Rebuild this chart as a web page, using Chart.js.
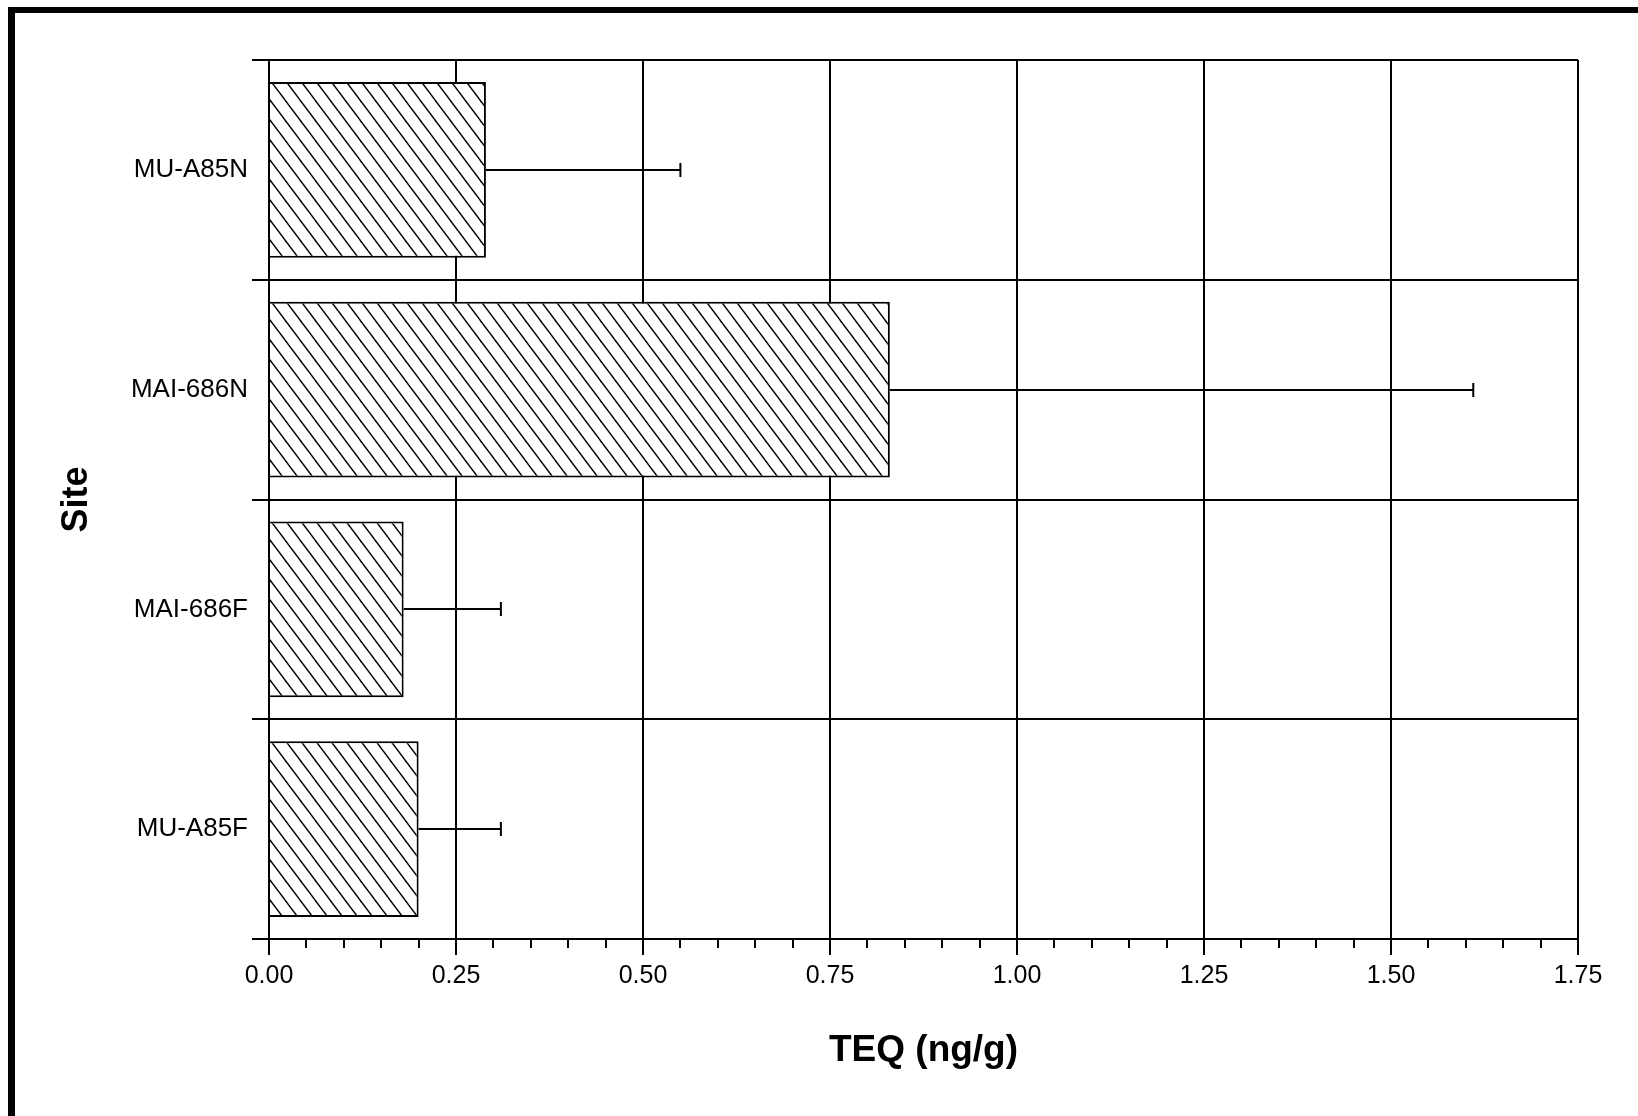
<!DOCTYPE html>
<html>
<head>
<meta charset="utf-8">
<script src="https://cdn.jsdelivr.net/npm/chart.js@4/dist/chart.umd.min.js"></script>
<style>
  html, body { margin: 0; padding: 0; background: #fff; }
  #wrap { position: relative; width: 1638px; height: 1116px; }
  #frame {
    position: absolute; left: 8px; top: 7px; right: 0; bottom: 0;
    border-left: 7px solid #000; border-top: 6px solid #000;
    pointer-events: none;
  }
</style>
</head>
<body>
<div id="wrap">
  <canvas id="chartTeq" width="1638" height="1116"></canvas>
  <div id="frame"></div>
</div>
<script>
( () => {

  // sites, top to bottom
  let sites = ['MU-A85N', 'MAI-686N', 'MAI-686F', 'MU-A85F'];
  // mean TEQ (ng/g)
  let teq = [0.29, 0.83, 0.18, 0.20];
  // error bar length (upper side only)
  let teqErr = [0.26, 0.78, 0.13, 0.11];
  let xTicks = [0.00, 0.25, 0.50, 0.75, 1.00, 1.25, 1.50, 1.75];

  Chart.defaults.font.family = '"Liberation Sans", Arial, Helvetica, sans-serif';
  Chart.defaults.color = '#000';

  // diagonal hatch, lines running down to the right
  function makeHatch() {
    let w = 15, h = 20;
    let c = document.createElement('canvas');
    c.width = w; c.height = h;
    let g = c.getContext('2d');
    g.fillStyle = '#fff';
    g.fillRect(0, 0, w, h);
    g.strokeStyle = '#000';
    g.lineWidth = 1.4;
    for (let k = -1; k <= 1; k++) {
      g.beginPath();
      g.moveTo(k * w - w, -h);
      g.lineTo(k * w + 2 * w, 2 * h);
      g.stroke();
    }
    return g.createPattern(c, 'repeat');
  }

  const errorBars = {
    id: 'errorBars',
    afterDatasetsDraw(chart) {
      const ctx = chart.ctx;
      const xs = chart.scales.x;
      const meta = chart.getDatasetMeta(0);
      ctx.save();
      ctx.strokeStyle = '#000';
      ctx.lineWidth = 2;
      meta.data.forEach((bar, i) => {
        let x0 = xs.getPixelForValue(teq[i]);
        let x1 = xs.getPixelForValue(teq[i] + teqErr[i]);
        let y = Math.round(bar.y);
        ctx.beginPath();
        ctx.moveTo(x0, y);
        ctx.lineTo(x1, y);
        ctx.moveTo(x1, y - 7);
        ctx.lineTo(x1, y + 7);
        ctx.stroke();
      });
      ctx.restore();
    }
  };

  const minorTicks = {
    id: 'minorTicks',
    afterDraw(chart) {
      const ctx = chart.ctx;
      const xs = chart.scales.x;
      const y0 = chart.chartArea.bottom;
      ctx.save();
      ctx.strokeStyle = '#000';
      ctx.lineWidth = 2;
      for (let i = 1; i < 35; i++) {
        if (i % 5 === 0) continue;
        let x = Math.round(xs.getPixelForValue(i * 0.05));
        ctx.beginPath();
        ctx.moveTo(x, y0);
        ctx.lineTo(x, y0 + 9);
        ctx.stroke();
      }
      ctx.restore();
    }
  };

  const ctx = document.getElementById('chartTeq').getContext('2d');

  new Chart(ctx, {
    type: 'bar',
    data: {
      labels: sites,
      datasets: [{
        label: 'TEQ',
        data: teq,
        backgroundColor: makeHatch(),
        borderColor: '#000',
        borderWidth: 2,
        barPercentage: 0.8,
        categoryPercentage: 1.0
      }]
    },
    options: {
      indexAxis: 'y',
      responsive: false,
      animation: false,
      layout: {
        padding: { top: 60, right: 60, left: 0, bottom: 0 }
      },
      plugins: {
        legend: { display: false },
        tooltip: { enabled: false }
      },
      scales: {
        x: {
          min: 0,
          max: 1.75,
          afterBuildTicks: (scale) => {
            scale.ticks = xTicks.map(v => ({ value: v }));
          },
          afterFit: (scale) => { scale.height = 177; },
          ticks: {
            padding: 6,
            font: { size: 25 },
            callback: (v) => Number(v).toFixed(2)
          },
          grid: {
            color: '#000',
            lineWidth: 2,
            tickLength: 16
          },
          border: { color: '#000', width: 2 },
          title: {
            display: true,
            text: 'TEQ (ng/g)',
            font: { size: 37, weight: 'bold' },
            padding: { top: 0, bottom: 43 }
          }
        },
        y: {
          afterFit: (scale) => { scale.width = 269; },
          ticks: {
            padding: 4,
            font: { size: 26 }
          },
          grid: {
            offset: true,
            color: '#000',
            lineWidth: 2,
            tickLength: 17
          },
          border: { color: '#000', width: 2 },
          title: {
            display: true,
            text: 'Site',
            font: { size: 36, weight: 'bold' },
            padding: { top: 55, bottom: 0 }
          }
        }
      }
    },
    plugins: [errorBars, minorTicks]
  });

})();
</script>
</body>
</html>
